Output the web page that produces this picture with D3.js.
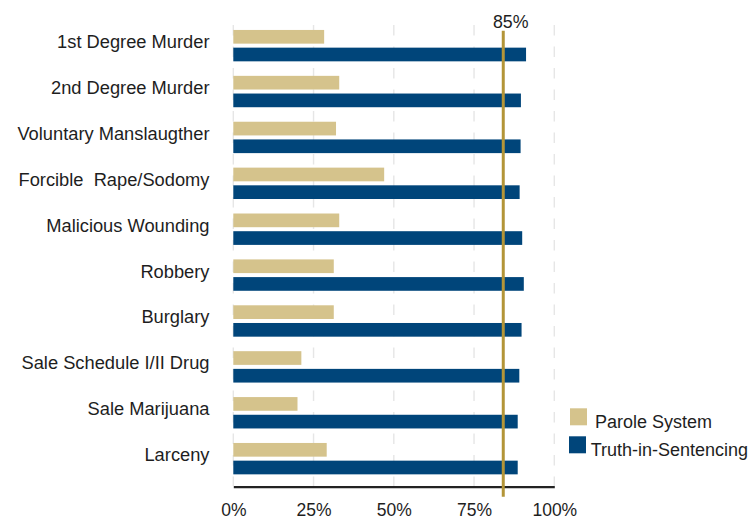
<!DOCTYPE html>
<html>
<head>
<meta charset="utf-8">
<script src="https://cdn.jsdelivr.net/npm/d3@7"></script>
<style>
  html, body { margin: 0; padding: 0; background: #fff; }
  svg { display: block; font-family: Arial, "Liberation Sans", sans-serif; }
</style>
</head>
<body>
<svg id="chart" width="750" height="521"></svg>
<script>
const categories = [
  "1st Degree Murder",
  "2nd Degree Murder",
  "Voluntary Manslaugther",
  "Forcible  Rape/Sodomy",
  "Malicious Wounding",
  "Robbery",
  "Burglary",
  "Sale Schedule I/II Drug",
  "Sale Marijuana",
  "Larceny"
];
const seriesNames = ["Parole System", "Truth-in-Sentencing"];
const paroleValues = [28.3, 33.0, 32.0, 47.0, 33.0, 31.3, 31.3, 21.2, 20.0, 29.1];
const tisValues    = [91.2, 89.6, 89.5, 89.2, 90.0, 90.5, 89.8, 89.1, 88.6, 88.6];
const tickValues = [0, 25, 50, 75, 100];
const refLabel = "85%";
const refPosition = 84.1; // where the reference line sits in the picture

const colors = { "Parole System": "#d5c38c", "Truth-in-Sentencing": "#00457a" };

const svg = d3.select("#chart");

const x = d3.scaleLinear().domain([0, 100]).range([233.3, 554.3]);
const y = d3.scaleBand().domain(categories).range([22.7, 481.6]).padding(0);
const ySub = d3.scaleBand().domain(seriesNames).range([0, y.step()])
  .paddingInner(0.226).paddingOuter(0.41);

// gridlines
svg.append("g").selectAll("line").data(tickValues).join("line")
  .attr("x1", d => x(d)).attr("x2", d => x(d))
  .attr("y1", 25).attr("y2", 486)
  .attr("stroke", "#e6e6e6").attr("stroke-width", 1.4)
  .attr("stroke-dasharray", "10.5,11");

// bars
const rows = categories.map((c, i) => ({ cat: c, values: [
  { s: seriesNames[0], v: paroleValues[i] },
  { s: seriesNames[1], v: tisValues[i] }
]}));

const g = svg.append("g").selectAll("g").data(rows).join("g")
  .attr("transform", d => `translate(0,${y(d.cat)})`);
g.selectAll("rect").data(d => d.values).join("rect")
  .attr("x", x(0))
  .attr("y", d => ySub(d.s))
  .attr("width", d => x(d.v) - x(0))
  .attr("height", ySub.bandwidth())
  .attr("fill", d => colors[d.s]);

// category labels
svg.append("g").selectAll("text").data(categories).join("text")
  .attr("x", 209.5)
  .attr("y", d => y(d) + y.bandwidth() / 2 - 4)
  .attr("dy", "0.35em")
  .attr("text-anchor", "end")
  .attr("font-size", 18.3)
  .attr("fill", "#1e1e1e")
  .style("white-space", "pre")
  .text(d => d);

// x axis
const xAxis = d3.axisBottom(x).tickValues(tickValues).tickFormat(d => d + "%").tickSize(0).tickPadding(0);
const ax = svg.append("g").attr("transform", "translate(0,486.7)").call(xAxis);
ax.select(".domain").attr("stroke", "#222").attr("stroke-width", 2.2);
ax.selectAll("text")
  .attr("font-size", 17.5)
  .attr("font-family", "Arial, 'Liberation Sans', sans-serif")
  .attr("fill", "#1e1e1e")
  .attr("dy", null)
  .attr("y", 29.5);

// reference line
svg.append("line")
  .attr("x1", x(refPosition)).attr("x2", x(refPosition))
  .attr("y1", 30.7).attr("y2", 496.7)
  .attr("stroke", "#b39538").attr("stroke-width", 3);
svg.append("text")
  .attr("x", x(refPosition) + 7.5).attr("y", 28)
  .attr("text-anchor", "middle")
  .attr("font-size", 17.8)
  .attr("fill", "#1e1e1e")
  .text(refLabel);

// legend
const legend = [
  { name: seriesNames[0], sx: 570, sy: 408.3, tx: 595, ty: 421.7 },
  { name: seriesNames[1], sx: 569, sy: 436.3, tx: 590.7, ty: 449.3 }
];
const lg = svg.append("g").selectAll("g").data(legend).join("g");
lg.append("rect")
  .attr("x", d => d.sx).attr("y", d => d.sy)
  .attr("width", 17).attr("height", 17)
  .attr("fill", d => colors[d.name]);
lg.append("text")
  .attr("x", d => d.tx).attr("y", d => d.ty)
  .attr("dy", "0.35em")
  .attr("font-size", 18)
  .attr("fill", "#1e1e1e")
  .text(d => d.name);
</script>
</body>
</html>
